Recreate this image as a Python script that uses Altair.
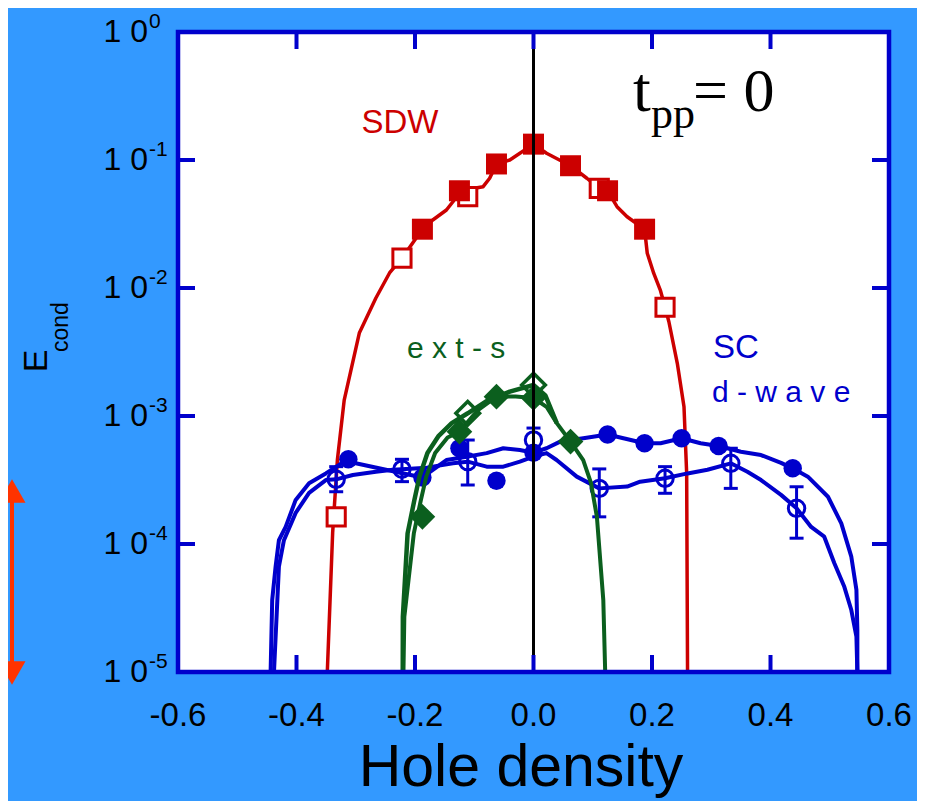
import altair as alt
import pandas as pd

# ---------------- data ----------------
# SDW (red)
sdw_fill_x = [-0.1875, -0.125, -0.0625, 0.0, 0.0625, 0.125, 0.1875]
sdw_fill_y = [0.0288, 0.0575, 0.0931, 0.133, 0.0902, 0.0575, 0.0288]
sdw_open_x = [-0.333, -0.222, -0.111, 0.111, 0.222]
sdw_open_y = [1.63e-4, 0.0171, 0.0517, 0.0601, 0.00707]
sdw_line_x = [-0.348, -0.339, -0.331, -0.3195, -0.294, -0.266, -0.243, -0.222, -0.1875,
              -0.17, -0.147, -0.136, -0.125, -0.085, -0.074, -0.0625, -0.04, -0.023, 0.0,
              0.022, 0.0625, 0.09, 0.111, 0.125, 0.141, 0.158, 0.1875, 0.192, 0.203, 0.214,
              0.222, 0.2285, 0.2427, 0.254, 0.2585, 0.26]
sdw_line_y = [1e-5, 1.22e-4, 4.53e-4, 1.33e-3, 4.45e-3, 8.35e-3, 0.0131, 0.0171, 0.0288,
              0.034, 0.0407, 0.0472, 0.0575, 0.0619, 0.072, 0.0931, 0.1, 0.1128, 0.133,
              0.1128, 0.0902, 0.072, 0.0601, 0.0575, 0.0432, 0.036, 0.0288, 0.0187, 0.013,
              0.00964, 0.00707, 0.00545, 0.00258, 0.00118, 3.59e-4, 1e-5]

# ext-s (green)
exts_fill_x = [-0.1875, -0.125, -0.0625, 0.0, 0.0625]
exts_fill_y = [1.63e-4, 7.54e-4, 1.416e-3, 1.383e-3, 6.31e-4]
exts_open_x = [-0.111, 0.0]
exts_open_y = [1.05e-3, 1.746e-3]
exts_line_a_x = [-0.2207, -0.2205, -0.2125, -0.201, -0.1925, -0.179, -0.16, -0.138, -0.111,
                 -0.08, -0.04, 0.0, 0.02, 0.0393]
exts_line_a_y = [1e-5, 2.7e-5, 1.21e-4, 2.21e-4, 3.36e-4, 5.14e-4, 7.0e-4, 8.8e-4, 1.05e-3,
                 1.3e-3, 1.55e-3, 1.746e-3, 1.45e-3, 8.8e-4]
exts_line_b_x = [-0.2195, -0.218, -0.202, -0.19, -0.181, -0.166, -0.145, -0.125, -0.095,
                 -0.0625, -0.03, 0.0, 0.022, 0.0393, 0.0625, 0.0839, 0.097, 0.107, 0.1178, 0.121]
exts_line_b_y = [1e-5, 2.7e-5, 1.21e-4, 2.21e-4, 3.36e-4, 5.14e-4, 6.8e-4, 7.54e-4, 1.1e-3,
                 1.416e-3, 1.42e-3, 1.383e-3, 1.18e-3, 8.8e-4, 6.31e-4, 4.53e-4, 3.0e-4,
                 1.63e-4, 3.65e-5, 1e-5]

# SC d-wave (blue)
sc_fill_x = [-0.3125, -0.1875, -0.125, -0.0625, 0.0, 0.125, 0.1875, 0.25, 0.3125, 0.4375]
sc_fill_y = [4.59e-4, 3.31e-4, 5.6e-4, 3.12e-4, 5.17e-4, 7.17e-4, 6.12e-4, 6.7e-4, 5.83e-4, 3.9e-4]
sc_open_x = [-0.333, -0.222, -0.111, 0.0, 0.111, 0.222, 0.333, 0.444]
sc_open_y = [3.2e-4, 3.84e-4, 4.4e-4, 6.5e-4, 2.72e-4, 3.26e-4, 4.27e-4, 1.9e-4]
sc_open_lo = [2.56e-4, 3.07e-4, 2.89e-4, 4.96e-4, 1.63e-4, 2.49e-4, 2.72e-4, 1.11e-4]
sc_open_hi = [4.02e-4, 4.59e-4, 6.49e-4, 8.05e-4, 3.86e-4, 4.02e-4, 5.6e-4, 2.8e-4]
sc_line_fill_x = [-0.4437, -0.441, -0.4353, -0.4297, -0.4183, -0.4014, -0.3788, -0.3505, -0.3229,
                  -0.3125, -0.3, -0.249, -0.1875, -0.147, -0.113, -0.079, -0.051, -0.023, 0.0,
                  0.022, 0.045, 0.084, 0.125, 0.1875, 0.2144, 0.25, 0.282, 0.3125, 0.35, 0.384,
                  0.4178, 0.4375, 0.463, 0.497, 0.5195, 0.5364, 0.545, 0.5466, 0.5466]
sc_line_fill_y = [1e-5, 3.65e-5, 6.65e-5, 1.07e-4, 1.36e-4, 2.21e-4, 2.98e-4, 3.56e-4, 4.3e-4,
                  4.59e-4, 4.27e-4, 3.8e-4, 3.31e-4, 4.53e-4, 4.81e-4, 5.13e-4, 5.6e-4, 5.42e-4,
                  5.17e-4, 5.6e-4, 6.31e-4, 6.7e-4, 7.17e-4, 6.12e-4, 6.12e-4, 6.7e-4, 6.12e-4,
                  5.83e-4, 5.26e-4, 4.95e-4, 4.3e-4, 3.9e-4, 3.36e-4, 2.34e-4, 1.45e-4, 7.96e-5,
                  4.38e-5, 2.13e-5, 1e-5]
sc_line_open_x = [-0.438, -0.4297, -0.4212, -0.4014, -0.3788, -0.3505, -0.333, -0.305, -0.266,
                  -0.2376, -0.222, -0.18, -0.136, -0.111, -0.079, -0.051, -0.023, 0.0, 0.022,
                  0.039, 0.073, 0.111, 0.158, 0.18, 0.222, 0.26, 0.2936, 0.333, 0.361, 0.384,
                  0.4178, 0.444, 0.4686, 0.4907, 0.5076, 0.5246, 0.5364, 0.545, 0.5466]
sc_line_open_y = [1e-5, 6.65e-5, 1.07e-4, 1.75e-4, 2.51e-4, 3.16e-4, 3.2e-4, 3.46e-4, 3.67e-4,
                  3.8e-4, 3.84e-4, 3.95e-4, 4.27e-4, 4.4e-4, 4.02e-4, 4.02e-4, 4.4e-4, 4.81e-4,
                  5.13e-4, 4.53e-4, 3.36e-4, 2.72e-4, 2.81e-4, 3.07e-4, 3.26e-4, 3.56e-4, 3.8e-4,
                  4.27e-4, 3.67e-4, 3.16e-4, 2.42e-4, 1.9e-4, 1.36e-4, 1.14e-4, 7.11e-5, 4.63e-5,
                  3.05e-5, 1.89e-5, 1e-5]

# axes
x_tick_vals = [-0.4, -0.2, 0.0, 0.2, 0.4]
x_label_vals = [-0.6, -0.4, -0.2, 0.0, 0.2, 0.4, 0.6]
x_label_text = ["-0.6", "-0.4", "-0.2", "0.0", "0.2", "0.4", "0.6"]
y_tick_vals = [1e-1, 1e-2, 1e-3, 1e-4]
y_label_vals = [1.0, 1e-1, 1e-2, 1e-3, 1e-4, 1e-5]
y_label_exp = ["0", "-1", "-2", "-3", "-4", "-5"]

# ---------------- styling ----------------
RED = "#CC0000"
GREEN = "#0B5F1E"
BLUE = "#0000CC"
BG = "#3399FF"
SANS = "Liberation Sans"
SERIF = "Liberation Serif"
W, H = 711, 640

X = alt.X("x:Q", scale=alt.Scale(domain=[-0.6, 0.6], nice=False, zero=False), axis=None)
Y = alt.Y("y:Q", scale=alt.Scale(type="log", domain=[1e-5, 1], nice=False), axis=None)


def pts(xs, ys):
    return pd.DataFrame({"x": xs, "y": ys})


def line(xs, ys, color, width):
    df = pd.DataFrame({"x": xs, "y": ys, "i": list(range(len(xs)))})
    return alt.Chart(df).mark_line(color=color, strokeWidth=width, strokeJoin="round",
                                   clip=True).encode(x=X, y=Y, order="i:Q")


one = pd.DataFrame({"a": [0]})


def label(text, x, y, size, color="black", font=SANS, align="left", angle=0):
    return alt.Chart(one).mark_text(text=text, fontSize=size, font=font, color=color,
                                    align=align, baseline="alphabetic", angle=angle).encode(
        x=alt.value(x), y=alt.value(y))


layers = []

# SDW
layers.append(line(sdw_line_x, sdw_line_y, RED, 3.5))
layers.append(alt.Chart(pts(sdw_open_x, sdw_open_y)).mark_point(
    shape="square", filled=False, size=330, color=RED, strokeWidth=3, opacity=1,
    fill="white", fillOpacity=1).encode(x=X, y=Y))
layers.append(alt.Chart(pts(sdw_fill_x, sdw_fill_y)).mark_point(
    shape="square", filled=True, size=441, color=RED, opacity=1).encode(x=X, y=Y))

# SC
layers.append(line(sc_line_fill_x, sc_line_fill_y, BLUE, 4))
layers.append(line(sc_line_open_x, sc_line_open_y, BLUE, 4))
err_df = pd.DataFrame({"x": sc_open_x, "y": sc_open_lo, "hi": sc_open_hi})
layers.append(alt.Chart(err_df).mark_rule(color=BLUE, strokeWidth=3).encode(
    x=X, y=Y, y2="hi:Q"))
layers.append(alt.Chart(pts(sc_open_x + sc_open_x, sc_open_lo + sc_open_hi)).mark_tick(
    orient="horizontal", size=14, thickness=3, color=BLUE, opacity=1).encode(x=X, y=Y))
layers.append(alt.Chart(pts(sc_open_x, sc_open_y)).mark_point(
    shape="circle", filled=False, size=270, color=BLUE, strokeWidth=3, opacity=1).encode(x=X, y=Y))
layers.append(alt.Chart(pts(sc_fill_x, sc_fill_y)).mark_point(
    shape="circle", filled=True, size=340, color=BLUE, opacity=1).encode(x=X, y=Y))

# ext-s
layers.append(line(exts_line_a_x, exts_line_a_y, GREEN, 4.5))
layers.append(line(exts_line_b_x, exts_line_b_y, GREEN, 4))
layers.append(alt.Chart(pts(exts_open_x, exts_open_y)).mark_point(
    shape="diamond", filled=False, size=560, color=GREEN, strokeWidth=3.5, opacity=1).encode(x=X, y=Y))
layers.append(alt.Chart(pts(exts_fill_x, exts_fill_y)).mark_point(
    shape="diamond", filled=True, size=660, color=GREEN, opacity=1).encode(x=X, y=Y))

# vertical line at zero
layers.append(alt.Chart(pd.DataFrame({"x": [0.0]})).mark_rule(color="black", strokeWidth=3).encode(x=X))

# frame and inward ticks
layers.append(alt.Chart(one).mark_rect(filled=False, stroke=BLUE, strokeWidth=4.5).encode(
    x=alt.value(0), x2=alt.value(W), y=alt.value(0), y2=alt.value(H)))
xt = pd.DataFrame({"x": x_tick_vals})
layers.append(alt.Chart(xt).mark_rule(color=BLUE, strokeWidth=4).encode(
    x=X, y=alt.value(H), y2=alt.value(H - 17)))
layers.append(alt.Chart(xt).mark_rule(color=BLUE, strokeWidth=4).encode(
    x=X, y=alt.value(0), y2=alt.value(17)))
yt = pd.DataFrame({"y": y_tick_vals})
layers.append(alt.Chart(yt).mark_rule(color=BLUE, strokeWidth=4).encode(
    y=Y, x=alt.value(0), x2=alt.value(17)))
layers.append(alt.Chart(yt).mark_rule(color=BLUE, strokeWidth=4).encode(
    y=Y, x=alt.value(W), x2=alt.value(W - 17)))

# tick labels
layers.append(alt.Chart(pd.DataFrame({"x": x_label_vals, "t": x_label_text})).mark_text(
    fontSize=33, font=SANS, color="black", align="center", baseline="alphabetic").encode(
    x=X, y=alt.value(H + 54), text="t:N"))
ylab = pd.DataFrame({"y": y_label_vals, "e": y_label_exp, "b": ["1 0"] * len(y_label_vals)})
layers.append(alt.Chart(ylab).mark_text(
    fontSize=32, font=SANS, color="black", align="right", baseline="middle").encode(
    y=Y, x=alt.value(-30), text="b:N"))
layers.append(alt.Chart(ylab).mark_text(
    fontSize=21, font=SANS, color="black", align="left", baseline="middle", dy=-10).encode(
    y=Y, x=alt.value(-29), text="e:N"))

# axis titles
layers.append(label("Hole density", 343, 754, 59, align="center"))
layers.append(label("E", -131, 329, 34, align="center", angle=270))
layers.append(label("cond", -110, 320, 23, align="left", angle=270))

# annotations
layers.append(label("SDW", 222, 101, 33, color=RED, align="center"))
layers.append(label("e x t - s", 229, 326, 30, color=GREEN))
layers.append(label("SC", 535, 326, 33, color=BLUE))
layers.append(label("d - w a v e", 534, 370, 30, color=BLUE))
layers.append(label("t", 455, 79, 64, font=SERIF))
layers.append(label("pp", 473, 96, 44, font=SERIF))
layers.append(label("= 0", 515, 79, 62, font=SERIF))

# red double arrow on the left
layers.append(alt.Chart(one).mark_rule(color="#FF3300", strokeWidth=4).encode(
    x=alt.value(-166), y=alt.value(465), y2=alt.value(635)))
layers.append(alt.Chart(one).mark_point(shape="triangle-up", filled=True, size=729,
                                        color="#FF3300", opacity=1).encode(
    x=alt.value(-166), y=alt.value(459)))
layers.append(alt.Chart(one).mark_point(shape="triangle-down", filled=True, size=729,
                                        color="#FF3300", opacity=1).encode(
    x=alt.value(-166), y=alt.value(641)))

chart = alt.layer(*layers).properties(
    width=W, height=H,
    padding={"left": 170, "top": 24, "right": 28, "bottom": 129},
    autosize=alt.AutoSizeParams(type="none"),
    background=BG,
).configure_view(stroke=None, fill="white")

chart.save("out.html", embed_options={"renderer": "svg", "actions": False})
